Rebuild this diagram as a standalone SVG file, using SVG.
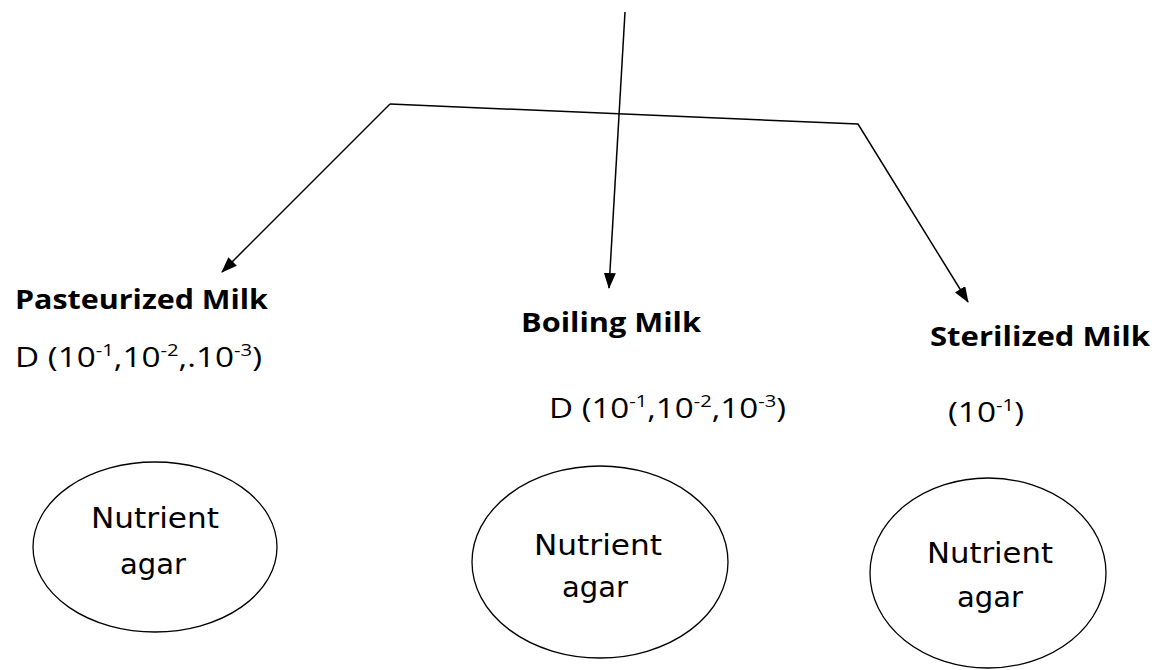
<svg xmlns="http://www.w3.org/2000/svg" width="1165" height="670" viewBox="0 0 1165 670">
<style>
.lbl{font-family:"Open Sans","Liberation Sans",sans-serif;font-size:26px;fill:#000}
.d{font-size:28px}
.b{font-weight:bold}
.sup{font-size:17px}
.agar{font-family:"Comic Sans MS","DejaVu Sans",sans-serif;font-size:29px;fill:#000;text-anchor:middle}
.dish{fill:none;stroke:#000;stroke-width:1.3}
.con{fill:none;stroke:#000;stroke-width:1.5}
</style>
<defs>
<marker id="ah" markerWidth="16" markerHeight="12" refX="15" refY="6" orient="auto" markerUnits="userSpaceOnUse">
<path d="M0,0 L16,6 L0,12 Z" fill="#000"/>
</marker>
</defs>
<rect width="1165" height="670" fill="#fff"/>
<g id="connectors">
<line class="con" x1="625" y1="12" x2="609" y2="288" marker-end="url(#ah)"/>
<polyline class="con" points="390,104 858,124 968,302" marker-end="url(#ah)"/>
<path class="con" d="M390,104 L222,272" marker-end="url(#ah)"/>
</g>
<g id="pasteurized">
<text class="lbl b" x="15" y="309" textLength="253" lengthAdjust="spacingAndGlyphs">Pasteurized Milk</text>
<text class="lbl d" x="15" y="367" textLength="247" lengthAdjust="spacingAndGlyphs">D (10<tspan class="sup" dy="-11">-1</tspan><tspan dy="11">,10</tspan><tspan class="sup" dy="-11">-2</tspan><tspan dy="11">,.10</tspan><tspan class="sup" dy="-11">-3</tspan><tspan dy="11">)</tspan></text>
</g>
<g id="boiling">
<text class="lbl b" x="521" y="332" textLength="180" lengthAdjust="spacingAndGlyphs">Boiling Milk</text>
<text class="lbl d" x="549" y="418" textLength="237" lengthAdjust="spacingAndGlyphs">D (10<tspan class="sup" dy="-11">-1</tspan><tspan dy="11">,10</tspan><tspan class="sup" dy="-11">-2</tspan><tspan dy="11">,10</tspan><tspan class="sup" dy="-11">-3</tspan><tspan dy="11">)</tspan></text>
</g>
<g id="sterilized">
<text class="lbl b" x="930" y="346" textLength="220" lengthAdjust="spacingAndGlyphs">Sterilized Milk</text>
<text class="lbl d" x="948" y="422" textLength="76" lengthAdjust="spacingAndGlyphs">(10<tspan class="sup" dy="-11">-1</tspan><tspan dy="11">)</tspan></text>
</g>
<g id="dish1">
<ellipse class="dish" cx="155" cy="547" rx="122" ry="85"/>
<text class="agar" x="155" y="528" textLength="128" lengthAdjust="spacingAndGlyphs">Nutrient</text>
<text class="agar" x="153" y="574">agar</text>
</g>
<g id="dish2">
<ellipse class="dish" cx="600" cy="562" rx="128" ry="96"/>
<text class="agar" x="598" y="555" textLength="128" lengthAdjust="spacingAndGlyphs">Nutrient</text>
<text class="agar" x="595" y="597">agar</text>
</g>
<g id="dish3">
<ellipse class="dish" cx="988" cy="573" rx="118" ry="95"/>
<text class="agar" x="990" y="563" textLength="126" lengthAdjust="spacingAndGlyphs">Nutrient</text>
<text class="agar" x="990" y="607">agar</text>
</g>
</svg>
